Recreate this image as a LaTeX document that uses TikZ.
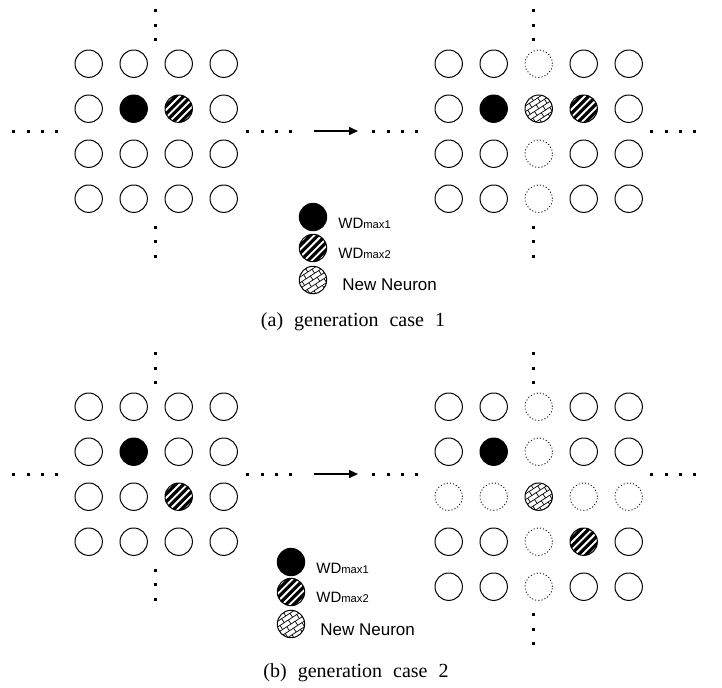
\documentclass[tikz,border=0pt]{standalone}
\usepackage{fontspec}
\setmainfont{Liberation Serif}
\setsansfont{Liberation Sans}
\usetikzlibrary{arrows.meta}
\begin{document}
\begin{tikzpicture}[x=0.5pt,y=-0.5pt,
  nrn/.style={circle, draw, line width=0.5pt, minimum size=13.7pt, inner sep=0pt},
  gst/.style={nrn, line width=0.45pt, dash pattern=on 0.5pt off 1.1pt},
  wd1/.style={nrn, fill=black},
  wd2/.style={nrn, fill=white, path picture={
     \foreach \k in {-6,...,6}
       \draw[line width=1.6pt] ([shift={({\k*3.8pt-10pt},-10pt)}]path picture bounding box.center) -- ++(20pt,20pt);}},
  new/.style={nrn, fill=white, path picture={
     \foreach \i in {-5,...,5} {
       \draw[line width=0.35pt]
         ([shift={({(-12*cos(33)-\i*2.4*sin(33))*1pt},{(-12*sin(33)+\i*2.4*cos(33))*1pt})}]path picture bounding box.center)
         -- ++({24*cos(33)*1pt},{24*sin(33)*1pt});
       \foreach \j in {-3,...,3}
         \draw[line width=0.35pt]
           ([shift={({((\j*5+mod(\i+10,2)*2.5)*cos(33)-\i*2.4*sin(33))*1pt},{((\j*5+mod(\i+10,2)*2.5)*sin(33)+\i*2.4*cos(33))*1pt})}]path picture bounding box.center)
           -- ++({-2.4*sin(33)*1pt},{2.4*cos(33)*1pt});
     }}},
  lbl/.style={font=\sffamily\fontsize{7.5pt}{9pt}\selectfont, anchor=west, inner sep=0pt},
  lblb/.style={font=\sffamily\fontsize{8.5pt}{10pt}\selectfont, anchor=west, inner sep=0pt},
  captext/.style={font=\fontsize{10pt}{12pt}\selectfont, inner sep=0pt},
  flow/.style={line width=0.8pt, -{Triangle[length=4.5pt,width=4pt]}}
]
\useasboundingbox (0,0) rectangle (722,687);
\newcommand{\smallsub}[1]{{\fontsize{5.6pt}{6pt}\selectfont #1}}

% ---------- (a) ----------
\foreach \row [count=\r] in {{nrn,nrn,nrn,nrn},{nrn,wd1,wd2,nrn},{nrn,nrn,nrn,nrn},{nrn,nrn,nrn,nrn}}
  \foreach \s [count=\c] in \row
    \node[\s] (A-\r-\c) at ({88.7+(\c-1)*45},{63.7+(\r-1)*45}) {};
\foreach \row [count=\r] in {{nrn,nrn,gst,nrn,nrn},{nrn,wd1,new,wd2,nrn},{nrn,nrn,gst,nrn,nrn},{nrn,nrn,gst,nrn,nrn}}
  \foreach \s [count=\c] in \row
    \node[\s] (B-\r-\c) at ({448.7+(\c-1)*45},{63.7+(\r-1)*45}) {};

\coordinate (a1s) at (314,131);
\coordinate (a1e) at (358,131);
\draw[flow] (a1s) -- (a1e);

\foreach \x/\y in {155.7/10,155.7/25,155.7/39.3,155.7/227,155.7/241,155.7/256,
                   13.3/131,28.3/131,42.7/131,56/131,247.3/131,262.7/131,276.7/131,290.7/131,
                   533.3/10,533.3/25,533.3/39.3,533.3/227,533.3/241,533.3/256,
                   373.3/131,388.3/131,402.7/131,416/131,651.7/131,666/131,680/131,694/131}
  \fill ({\x-1.5},{\y-1.5}) rectangle ++(3,3);

\node[wd1] (la1) at (313,217) {};
\node[wd2] (la2) at (313,248) {};
\node[new] (la3) at (313,280) {};
\node[lbl] (ta1) at (338,223) {WD\smallsub{max1}};
\node[lbl] (ta2) at (338,253) {WD\smallsub{max2}};
\node[lblb] (ta3) at (342,285) {New Neuron};

\node[captext] (capa) at (353,322) {(a)\hspace{5.5pt}generation\hspace{5.5pt}case\hspace{5.5pt}1};

% ---------- (b) ----------
\foreach \row [count=\r] in {{nrn,nrn,nrn,nrn},{nrn,wd1,nrn,nrn},{nrn,nrn,wd2,nrn},{nrn,nrn,nrn,nrn}}
  \foreach \s [count=\c] in \row
    \node[\s] (C-\r-\c) at ({88.7+(\c-1)*45},{406.7+(\r-1)*45}) {};
\foreach \row [count=\r] in {{nrn,nrn,gst,nrn,nrn},{nrn,wd1,gst,nrn,nrn},{gst,gst,new,gst,gst},{nrn,nrn,gst,wd2,nrn},{nrn,nrn,gst,nrn,nrn}}
  \foreach \s [count=\c] in \row
    \node[\s] (D-\r-\c) at ({448.7+(\c-1)*45},{406.7+(\r-1)*45}) {};

\coordinate (a2s) at (314,474);
\coordinate (a2e) at (358,474);
\draw[flow] (a2s) -- (a2e);

\foreach \x/\y in {155.7/353,155.7/368,155.7/382.3,155.7/570,155.7/584,155.7/599,
                   13.3/474,28.3/474,42.7/474,56/474,247.3/474,262.7/474,276.7/474,290.7/474,
                   533.3/353,533.3/368,533.3/382.3,533.3/614,533.3/629,533.3/643,
                   373.3/474,388.3/474,402.7/474,416/474,651.7/474,666/474,680/474,694/474}
  \fill ({\x-1.5},{\y-1.5}) rectangle ++(3,3);

\node[wd1] (lb1) at (291,562) {};
\node[wd2] (lb2) at (291,592) {};
\node[new] (lb3) at (291,624) {};
\node[lbl] (tb1) at (316,568) {WD\smallsub{max1}};
\node[lbl] (tb2) at (316,597) {WD\smallsub{max2}};
\node[lblb] (tb3) at (320,630) {New Neuron};

\node[captext] (capb) at (356,673) {(b)\hspace{5.5pt}generation\hspace{5.5pt}case\hspace{5.5pt}2};
\end{tikzpicture}
\end{document}
